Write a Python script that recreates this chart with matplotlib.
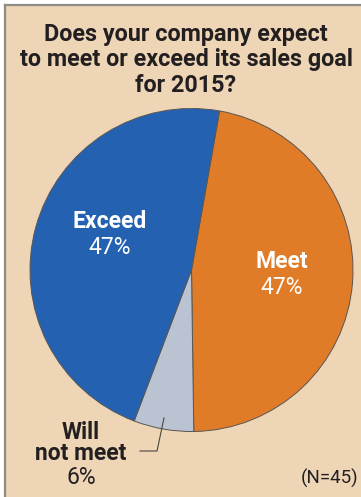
import matplotlib
matplotlib.use("Agg")
import matplotlib.pyplot as plt
from matplotlib.patches import Rectangle
from matplotlib.lines import Line2D

categories = ["Meet", "Will\nnot meet", "Exceed"]
values = [47, 6, 47]
labels_pct = ["47%", "6%", "47%"]
colors = ["#E07B28", "#B9C3D2", "#2462B1"]
title_lines = ["Does your company expect", "to meet or exceed its sales goal", "for 2015?"]
note = "(N=45)"

W, H = 361, 497
fig = plt.figure(figsize=(W / 100, H / 100), dpi=100)
fig.patch.set_facecolor("white")

def fx(x):
    return x / W

def fy(y):
    return 1 - y / H

bg = "#EDD5B6"
fig.add_artist(Rectangle((fx(5), 0), 1 - fx(5), fy(5), transform=fig.transFigure,
                         facecolor=bg, edgecolor="none", zorder=0))
fig.add_artist(Line2D([fx(5), fx(5)], [0, fy(5)], transform=fig.transFigure,
                      color="#8E8A86", lw=1.6, zorder=1))
fig.add_artist(Line2D([fx(5), 1], [fy(5), fy(5)], transform=fig.transFigure,
                      color="#8E8A86", lw=1.6, zorder=1))

# pie axes
cx, cy, r = 191.5, 270, 161.5
ax = fig.add_axes([fx(cx - r), fy(cy + r), 2 * r / W, 2 * r / H])
ax.set_facecolor("none")
ax.pie(values, colors=colors, startangle=80, counterclock=False, radius=1,
       wedgeprops=dict(edgecolor="#5A5652", linewidth=0.7))
ax.set_xlim(-1, 1)
ax.set_ylim(-1, 1)
ax.set_aspect("auto")
ax.axis("off")

fam = ["Roboto", "DejaVu Sans"]
dark = "#231F20"
for i, line in enumerate(title_lines):
    fig.text(fx(186), fy(34 + i * 25.5), line, ha="center", va="center",
             fontsize=16.8, fontweight="bold", color=dark, family=fam)

# slice labels
fs = 16.5
fig.text(fx(110), fy(222), categories[2], ha="center", va="center", fontsize=fs,
         fontweight="bold", color="white", family=fam)
fig.text(fx(110), fy(248), labels_pct[2], ha="center", va="center", fontsize=fs,
         color="white", family=fam)
fig.text(fx(282), fy(261), categories[0], ha="center", va="center", fontsize=fs,
         fontweight="bold", color="white", family=fam)
fig.text(fx(282), fy(287), labels_pct[0], ha="center", va="center", fontsize=fs,
         color="white", family=fam)
fig.text(fx(81), fy(443), categories[1], ha="center", va="center", fontsize=fs,
         fontweight="bold", color=dark, family=fam, linespacing=0.92)
fig.text(fx(81), fy(477), labels_pct[1], ha="center", va="center", fontsize=fs,
         color=dark, family=fam)

fig.add_artist(Line2D([fx(164), fx(157), fx(140)], [fy(418), fy(451), fy(451)],
                      transform=fig.transFigure, color="#4A4642", lw=0.8))

fig.text(fx(301), fy(478), note, ha="left", va="center", fontsize=13.5,
         color=dark, family=fam)

fig.savefig("out.png", dpi=100, facecolor=fig.get_facecolor())
